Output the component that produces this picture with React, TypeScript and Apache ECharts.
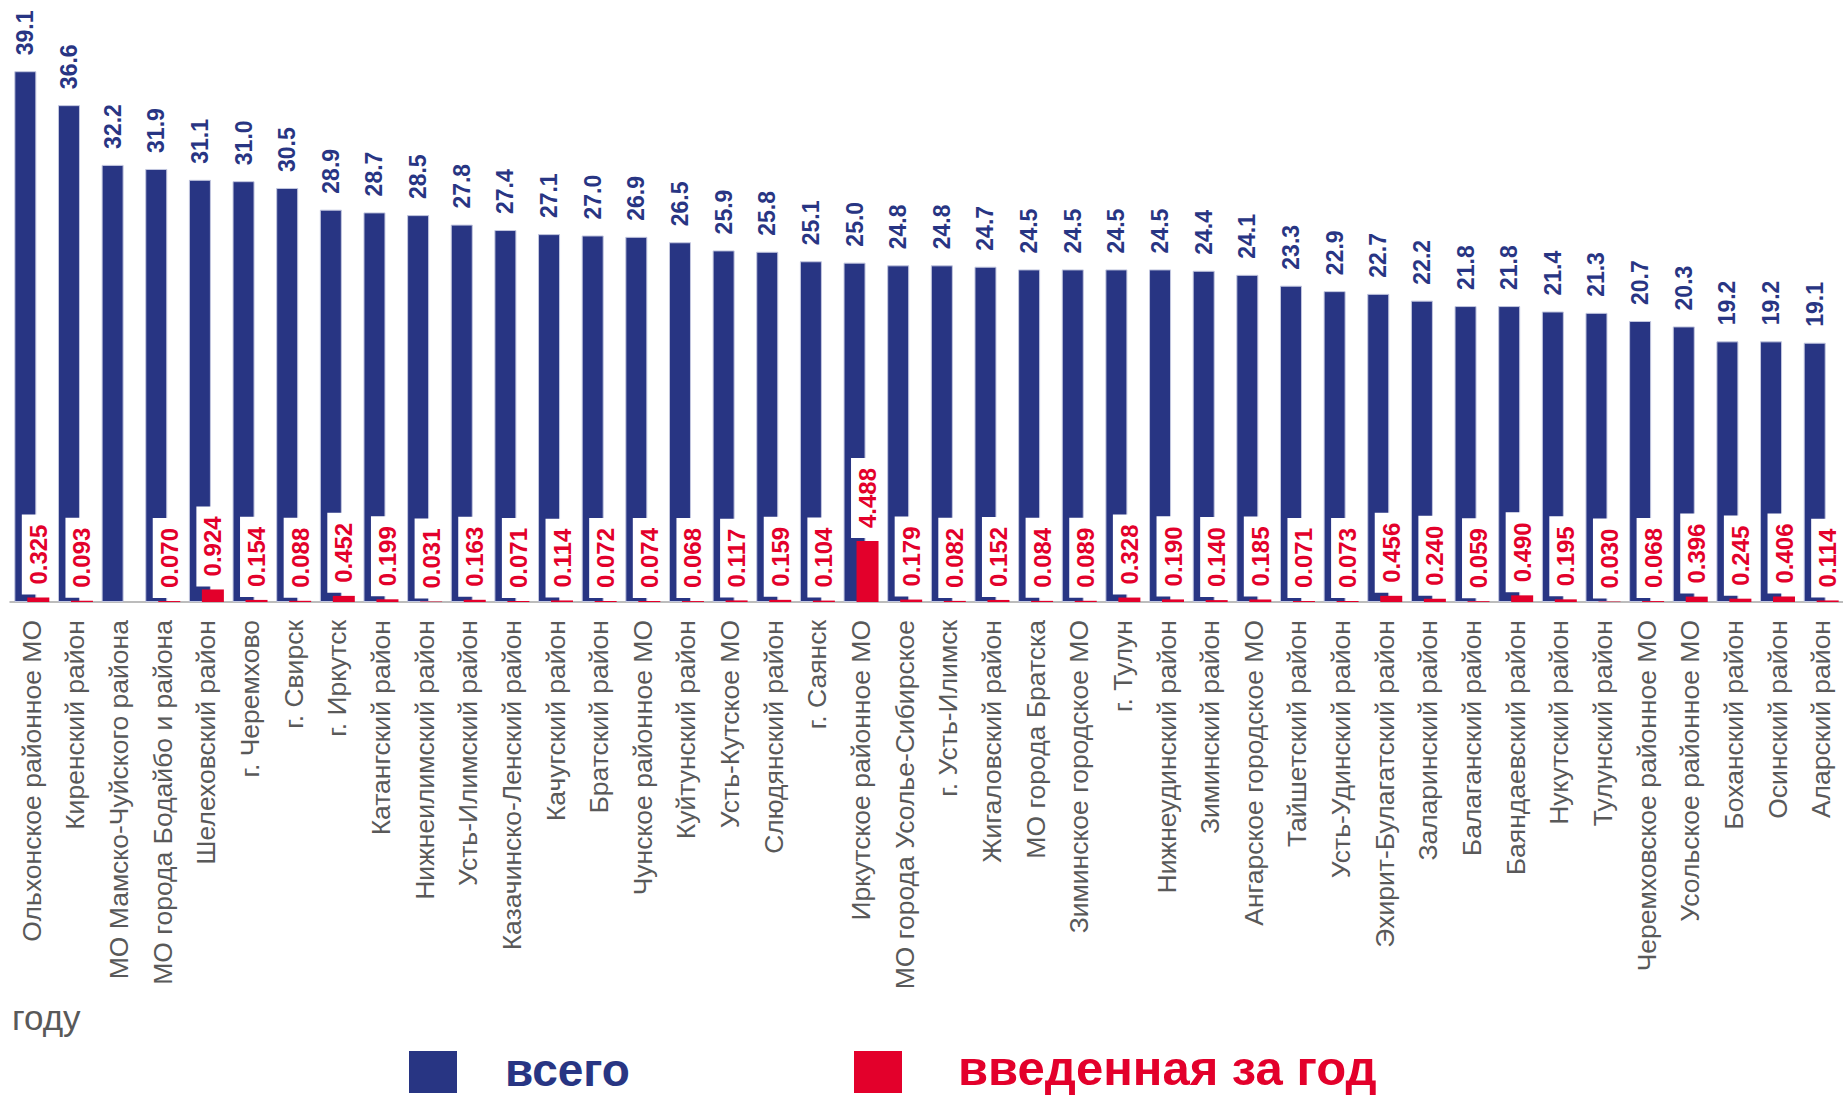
import React, { useEffect, useRef } from "react";
import * as echarts from "echarts";

const categories = [
  "Ольхонское районное МО",
  "Киренский район",
  "МО Мамско-Чуйского района",
  "МО города Бодайбо и района",
  "Шелеховский район",
  "г. Черемхово",
  "г. Свирск",
  "г. Иркутск",
  "Катангский район",
  "Нижнеилимский район",
  "Усть-Илимский район",
  "Казачинско-Ленский район",
  "Качугский район",
  "Братский район",
  "Чунское районное МО",
  "Куйтунский район",
  "Усть-Кутское МО",
  "Слюдянский район",
  "г. Саянск",
  "Иркутское районное МО",
  "МО города Усолье-Сибирское",
  "г. Усть-Илимск",
  "Жигаловский район",
  "МО города Братска",
  "Зиминское городское МО",
  "г. Тулун",
  "Нижнеудинский район",
  "Зиминский район",
  "Ангарское городское МО",
  "Тайшетский район",
  "Усть-Удинский район",
  "Эхирит-Булагатский район",
  "Заларинский район",
  "Балаганский район",
  "Баяндаевский район",
  "Нукутский район",
  "Тулунский район",
  "Черемховское районное МО",
  "Усольское районное МО",
  "Боханский район",
  "Осинский район",
  "Аларский район",
];

const totalValues = [
  39.1, 36.6, 32.2, 31.9, 31.1, 31.0, 30.5, 28.9, 28.7, 28.5, 27.8, 27.4, 27.1, 27.0,
  26.9, 26.5, 25.9, 25.8, 25.1, 25.0, 24.8, 24.8, 24.7, 24.5, 24.5, 24.5, 24.5, 24.4,
  24.1, 23.3, 22.9, 22.7, 22.2, 21.8, 21.8, 21.4, 21.3, 20.7, 20.3, 19.2, 19.2, 19.1,
];

const newValues: (number | null)[] = [
  0.325, 0.093, null, 0.07, 0.924, 0.154, 0.088, 0.452, 0.199, 0.031, 0.163, 0.071, 0.114, 0.072,
  0.074, 0.068, 0.117, 0.159, 0.104, 4.488, 0.179, 0.082, 0.152, 0.084, 0.089, 0.328, 0.19, 0.14,
  0.185, 0.071, 0.073, 0.456, 0.24, 0.059, 0.49, 0.195, 0.03, 0.068, 0.396, 0.245, 0.406, 0.114,
];

const seriesNames = ["всего", "введенная за год"];
const footnoteText = "году";

const BLUE = "#283583";
const RED = "#e3002b";
const GRAY = "#595959";
const FONT = "'Liberation Sans', Arial, sans-serif";

export default function App() {
  const ref = useRef<HTMLDivElement>(null);
  useEffect(() => {
    document.body.style.margin = "0";
    const chart = echarts.init(ref.current!, null, { renderer: "svg" });
    chart.setOption({
      animation: false,
      grid: { left: 10, right: 0, top: 59, bottom: 494 },
      xAxis: {
        type: "category",
        data: categories,
        axisLine: { lineStyle: { color: "#a6a6a6", width: 1.5 } },
        axisTick: { length: 8, lineStyle: { color: "#a6a6a6", width: 1.5 } },
        axisLabel: {
          rotate: 90,
          interval: 0,
          fontSize: 26.5,
          color: GRAY,
          margin: 18,
          fontFamily: FONT,
        },
      },
      yAxis: { type: "value", min: 0, max: 40, show: false, splitLine: { show: false } },
      series: [
        {
          name: seriesNames[0],
          type: "bar",
          data: totalValues,
          barWidth: 22,
          barGap: "-41%",
          itemStyle: { color: BLUE, borderColor: "#c3c7df", borderWidth: 1 },
          label: {
            show: true,
            position: "top",
            rotate: 90,
            align: "left",
            verticalAlign: "middle",
            distance: 16,
            formatter: (p: any) => Number(p.value).toFixed(1),
            fontSize: 23,
            fontWeight: "bold",
            color: BLUE,
            fontFamily: FONT,
          },
        },
        {
          name: seriesNames[1],
          type: "bar",
          data: newValues,
          barWidth: 22,
          barGap: "-41%",
          z: 3,
          itemStyle: { color: RED },
          label: {
            show: true,
            position: "top",
            rotate: 90,
            align: "left",
            verticalAlign: "middle",
            distance: 6,
            offset: [-3, 0],
            formatter: (p: any) => (p.value == null ? "" : Number(p.value).toFixed(3)),
            fontSize: 24,
            fontWeight: "bold",
            color: RED,
            fontFamily: FONT,
            backgroundColor: "#ffffff",
            padding: [8, 10, 1, 10],
          },
        },
      ],
      graphic: [
        {
          type: "text",
          left: 12,
          top: 1000,
          style: { text: footnoteText, fontSize: 35, fill: GRAY, fontFamily: FONT },
        },
        {
          type: "rect",
          shape: { x: 409, y: 1051, width: 48, height: 42 },
          style: { fill: BLUE },
        },
        {
          type: "text",
          x: 505,
          y: 1070,
          style: {
            text: seriesNames[0],
            fontSize: 46,
            lineHeight: 40,
            fontWeight: "bold",
            fill: BLUE,
            fontFamily: FONT,
            verticalAlign: "middle",
          },
        },
        {
          type: "rect",
          shape: { x: 854, y: 1051, width: 48, height: 42 },
          style: { fill: RED },
        },
        {
          type: "text",
          x: 958,
          y: 1068,
          style: {
            text: seriesNames[1],
            fontSize: 49,
            lineHeight: 40,
            fontWeight: "bold",
            fill: RED,
            fontFamily: FONT,
            verticalAlign: "middle",
          },
        },
      ],
    });
    return () => chart.dispose();
  }, []);
  return <div ref={ref} style={{ width: 1843, height: 1096 }} />;
}
